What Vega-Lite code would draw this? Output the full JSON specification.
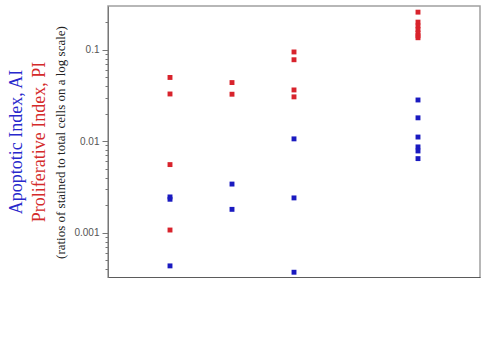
{
  "$schema": "https://vega.github.io/schema/vega-lite/v6.json",
  "autosize": "none",
  "padding": {"left": 108, "top": 6, "right": 5, "bottom": 0},
  "background": "white",
  "width": 372,
  "height": 272,
  "title": {"text": "Apoptotic Index, AI", "subtitle": "Proliferative Index, PI", "orient": "left", "anchor": "middle", "font": "Liberation Serif", "fontSize": 18, "fontWeight": "normal", "color": "#2828cc", "subtitleFont": "Liberation Serif", "subtitleFontSize": 18, "subtitleColor": "#d42a2a", "subtitlePadding": 5, "offset": 6},
  "config": {
    "view": {"stroke": "#a0a0a0", "strokeWidth": 1.5},
    "axis": {"grid": false, "labelFont": "Liberation Sans", "labelFontSize": 10, "labelColor": "#555", "domainColor": "#777", "tickColor": "#777", "titleFont": "Liberation Serif", "titleFontWeight": "normal"}
  },
  "layer": [
    {
      "data": {"values": [
        {"x": 0, "v": 0.0497, "index": "PI"},
        {"x": 0, "v": 0.0328, "index": "PI"},
        {"x": 0, "v": 0.00555, "index": "PI"},
        {"x": 0, "v": 0.00107, "index": "PI"},
        {"x": 0, "v": 0.00246, "index": "AI"},
        {"x": 0, "v": 0.00232, "index": "AI"},
        {"x": 0, "v": 0.000434, "index": "AI"},
        {"x": 5, "v": 0.0437, "index": "PI"},
        {"x": 5, "v": 0.0326, "index": "PI"},
        {"x": 5, "v": 0.0034, "index": "AI"},
        {"x": 5, "v": 0.0018, "index": "AI"},
        {"x": 10, "v": 0.0944, "index": "PI"},
        {"x": 10, "v": 0.0776, "index": "PI"},
        {"x": 10, "v": 0.0363, "index": "PI"},
        {"x": 10, "v": 0.0305, "index": "PI"},
        {"x": 10, "v": 0.0106, "index": "AI"},
        {"x": 10, "v": 0.0024, "index": "AI"},
        {"x": 10, "v": 0.00037, "index": "AI"},
        {"x": 20, "v": 0.257, "index": "PI"},
        {"x": 20, "v": 0.2, "index": "PI"},
        {"x": 20, "v": 0.182, "index": "PI"},
        {"x": 20, "v": 0.166, "index": "PI"},
        {"x": 20, "v": 0.152, "index": "PI"},
        {"x": 20, "v": 0.142, "index": "PI"},
        {"x": 20, "v": 0.135, "index": "PI"},
        {"x": 20, "v": 0.0282, "index": "AI"},
        {"x": 20, "v": 0.018, "index": "AI"},
        {"x": 20, "v": 0.0111, "index": "AI"},
        {"x": 20, "v": 0.00866, "index": "AI"},
        {"x": 20, "v": 0.00782, "index": "AI"},
        {"x": 20, "v": 0.00645, "index": "AI"}
      ]},
      "mark": {"type": "point", "shape": "square", "filled": true, "size": 24, "opacity": 1},
      "encoding": {
        "x": {"field": "x", "type": "quantitative", "scale": {"domain": [-5, 25], "nice": false, "zero": false},
          "axis": {"title": null, "labels": false, "values": [0, 10, 20], "domainColor": "#000", "domainWidth": 2, "tickSize": 4, "tickColor": "#666"}},
        "y": {"field": "v", "type": "quantitative", "scale": {"type": "log", "domain": [0.00032, 0.3], "nice": false},
          "axis": {
            "values": [0.0004,0.0005,0.0006,0.0007,0.0008,0.0009,0.001,0.002,0.003,0.004,0.005,0.006,0.007,0.008,0.009,0.01,0.02,0.03,0.04,0.05,0.06,0.07,0.08,0.09,0.1,0.2],
            "labelExpr": "datum.value == 0.1 ? '0.1' : datum.value == 0.01 ? '0.01' : datum.value == 0.001 ? '0.001' : ''",
            "tickSize": {"condition": {"test": "datum.value == 0.1 || datum.value == 0.01 || datum.value == 0.001", "value": 6}, "value": 3},
            "labelPadding": 3,
            "title": "(ratios of stained to total cells on a log scale)",
            "titleFontSize": 13, "titleColor": "#222", "titlePadding": 6
          }},
        "color": {"field": "index", "type": "nominal", "scale": {"domain": ["PI", "AI"], "range": ["#d8232c", "#1a1ac0"]}, "legend": null}
      }
    },
    {
      "mark": {"type": "text", "text": "(a)", "font": "Liberation Serif", "fontSize": 19, "align": "left", "baseline": "middle", "color": "#111"},
      "encoding": {
        "x": {"datum": -4.2, "type": "quantitative"},
        "y": {"datum": 0.193, "type": "quantitative"}
      }
    },
    {
      "mark": {"type": "text", "text": "ρ=0.82 for PI", "font": "DejaVu Sans", "fontSize": 12.5, "align": "left", "baseline": "middle", "color": "#d8323a"},
      "encoding": {
        "x": {"datum": -1.45, "type": "quantitative"},
        "y": {"datum": 0.2, "type": "quantitative"}
      }
    },
    {
      "mark": {"type": "text", "text": "ρ=0.77 for AI", "font": "DejaVu Sans", "fontSize": 12.5, "align": "left", "baseline": "middle", "color": "#3434c4"},
      "encoding": {
        "x": {"datum": -1.45, "type": "quantitative"},
        "y": {"datum": 0.126, "type": "quantitative"}
      }
    }
  ]
}
